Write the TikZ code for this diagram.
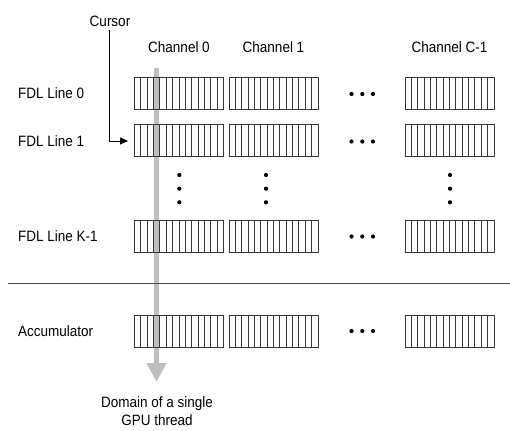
\documentclass[tikz,border=0pt]{standalone}
\usepackage{fontspec}
\setmainfont{Liberation Sans}[FakeStretch=0.9]
\usetikzlibrary{calc,arrows.meta}
\begin{document}
\begin{tikzpicture}[x=1pt,y=-1pt,
  every node/.style={font=\fontsize{15}{18}\selectfont, inner sep=0pt},
  fdlblock/.style={draw=black!78, line width=1pt, minimum width=89pt, minimum height=32pt, inner sep=0pt, outer sep=0pt, anchor=north west},
  stripe/.style={draw=black!78, line width=0.9pt},
  label/.style={anchor=west},
  grayarrow/.style={draw=black!25, line width=5pt, -{Triangle[width=19pt,length=19pt]}},
  cursorarrow/.style={draw=black, line width=0.8pt, -{Triangle[width=7pt,length=8pt]}},
  dot/.style={fill=black, circle, minimum size=4.2pt, inner sep=0pt}
]
\useasboundingbox (0,0) rectangle (510,430);
% gray domain arrow
\coordinate (gtop) at (156.5,68);
\coordinate (gbot) at (156.5,382);
\draw[grayarrow] (gtop) -- (gbot);
% blocks
\foreach \r/\y in {0/78,1/125,k/220,a/315}{
  \foreach \c/\x in {0/134.5,1/229,c/405}{
    \node[fdlblock] (b\r\c) at (\x,\y) {};
    \foreach \i in {1,...,13}
      \draw[stripe] ($(b\r\c.north west)!\i/14!(b\r\c.north east)$) -- ($(b\r\c.south west)!\i/14!(b\r\c.south east)$);
  }
}
% channel headers
\node (h0) at (179,46.7) {Channel 0};
\node (h1) at (273.5,46.7) {Channel 1};
\node (hc) at (449.5,46.7) {Channel C-1};
% row labels
\node[label] (l0) at (18,93) {FDL Line 0};
\node[label] (l1) at (18,141.5) {FDL Line 1};
\node[label] (lk) at (18,236.5) {FDL Line K-1};
\node[label] (la) at (18,331) {Accumulator};
% horizontal dots
\foreach \n/\y in {0/94,1/141.5,k/236.5,a/331}{
  \foreach \j/\x in {1/351.5,2/362.3,3/373}
    \node[dot] (hd\n\j) at (\x,\y) {};
}
% vertical dots
\foreach \n/\x in {0/179.3,1/266,c/450}{
  \foreach \j/\y in {1/175,2/188.7,3/202.3}
    \node[dot] (vd\n\j) at (\x,\y) {};
}
% separator
\coordinate (sepL) at (8,283.3);
\coordinate (sepR) at (510,283.3);
\draw[draw=black!70, line width=1.2pt] (sepL) -- (sepR);
% cursor
\node (cursor) at (110,21.5) {Cursor};
\draw[cursorarrow, shorten >=6.5pt] ([yshift=-3pt]cursor.south -| 109,0) |- (b10.west);
% domain text
\node[align=center] (dom) at (157,411.5) {Domain of a single\\GPU thread};
\end{tikzpicture}
\end{document}
